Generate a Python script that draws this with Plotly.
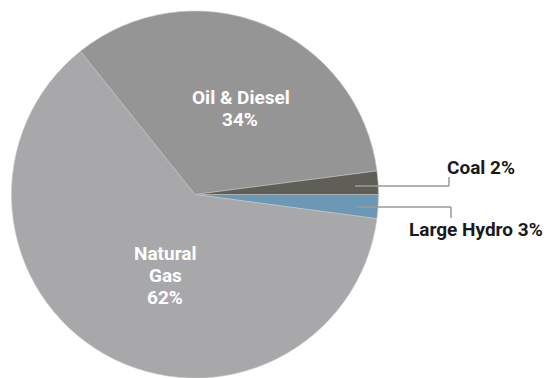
import plotly.graph_objects as go

# Data (clockwise from 3 o'clock)
categories = ["Large Hydro", "Natural Gas", "Oil & Diesel", "Coal"]
values = [2.1, 62.2, 33.7, 2.05]
pct_labels = ["3%", "62%", "34%", "2%"]
colors = ["#6b98b6", "#a8a8aa", "#959595", "#5f5f57"]

W, H = 548, 378

def px(x, y):
    return x / W, 1 - y / H

fig = go.Figure(go.Pie(
    labels=categories,
    values=values,
    sort=False,
    direction="clockwise",
    rotation=90,
    marker=dict(colors=colors, line=dict(color="#c4c4c4", width=0.6)),
    textinfo="none",
    hoverinfo="label+percent",
    showlegend=False,
    domain=dict(x=[11 / W, 379 / W], y=[0, 367 / H]),
))

FONT = "Roboto"
annos = []

def add_text(text, x, y, color, size=19):
    ax, ay = px(x, y)
    annos.append(dict(text=f"<b>{text}</b>", x=ax, y=ay, xref="paper", yref="paper",
                      xanchor="center", yanchor="middle", showarrow=False,
                      font=dict(family=FONT, size=size, color=color)))

# inside labels
add_text(categories[2], 240.5, 97, "white")
add_text(pct_labels[2], 240, 119, "white")
add_text("Natural", 165, 253, "white")
add_text("Gas", 165, 275, "white")
add_text(pct_labels[1], 165, 297, "white")
# outside labels
add_text(f"{categories[3]} {pct_labels[3]}", 481, 167, "#1a1a1a")
add_text(f"{categories[0]} {pct_labels[0]}", 475.5, 229, "#1a1a1a")

shapes = []
def add_line(points):
    for (x0, y0), (x1, y1) in zip(points[:-1], points[1:]):
        a0, b0 = px(x0, y0)
        a1, b1 = px(x1, y1)
        shapes.append(dict(type="line", xref="paper", yref="paper",
                           x0=a0, y0=b0, x1=a1, y1=b1,
                           line=dict(color="#9a9a9a", width=1.5)))

add_line([(355, 186), (449, 186), (449, 177)])
add_line([(357, 207), (451, 207), (451, 218)])

fig.update_layout(
    width=W, height=H,
    margin=dict(l=0, r=0, t=0, b=0),
    paper_bgcolor="white",
    plot_bgcolor="white",
    annotations=annos,
    shapes=shapes,
)

fig.write_html("out.html")
